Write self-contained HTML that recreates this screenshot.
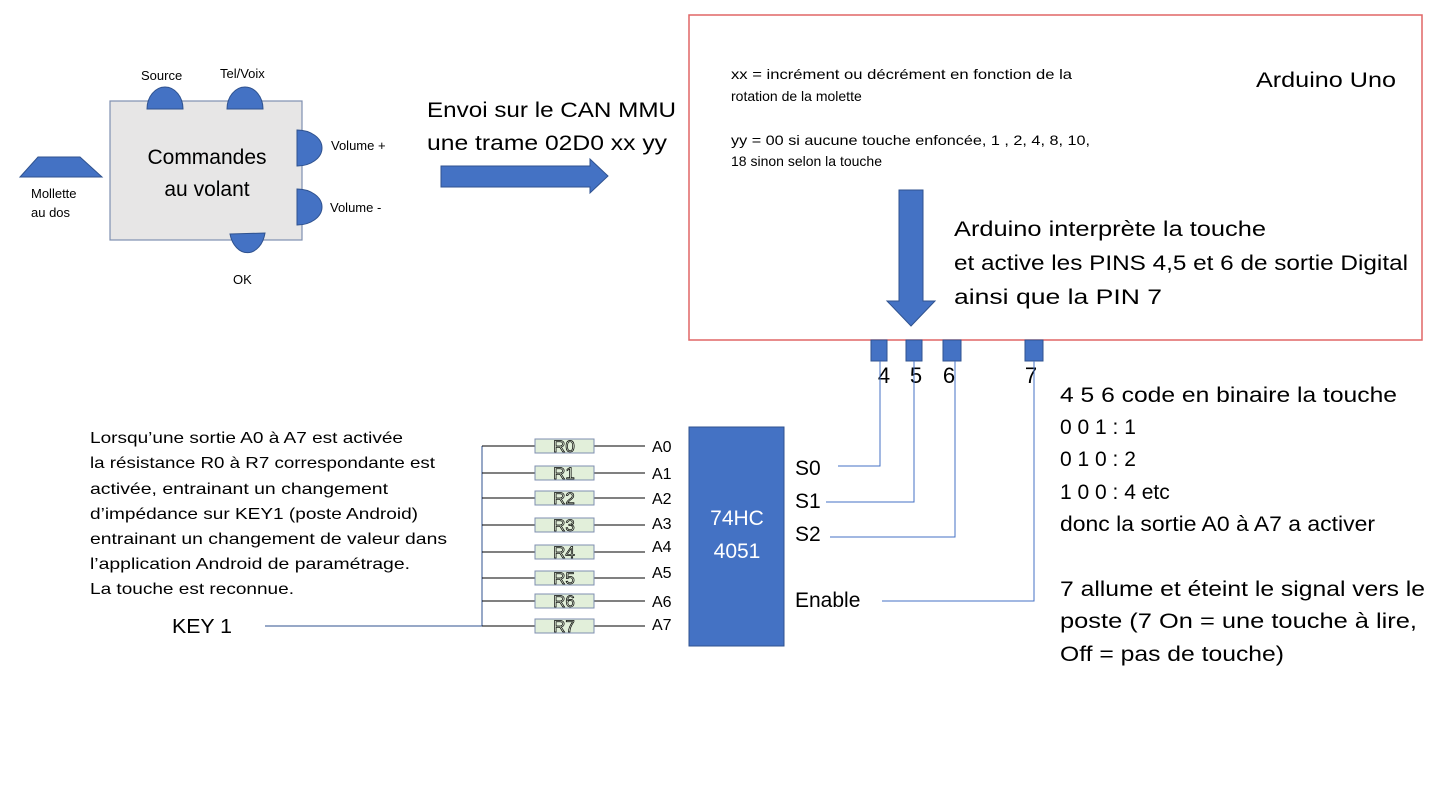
<!DOCTYPE html>
<html><head><meta charset="utf-8"><style>
html,body{margin:0;padding:0;background:#fff;}
svg{display:block;font-family:"Liberation Sans",sans-serif;}
</style></head><body>
<svg width="1440" height="810" viewBox="0 0 1440 810" xmlns="http://www.w3.org/2000/svg">
<!-- Commandes au volant -->
<rect x="110" y="101" width="192" height="139" fill="#e7e6e6" stroke="#7f8fb0" stroke-width="1.2"/>
<g fill="#4472c4" stroke="#2f528f" stroke-width="1">
<path d="M147 109 A18 22 0 0 1 183 109 Z"/>
<path d="M227 109 A18 22 0 0 1 263 109 Z"/>
<path d="M297 130 A25 18 0 0 1 297 166 Z"/>
<path d="M297 189 A25 18 0 0 1 297 225 Z"/>
<path d="M230 234 L265 233 A18 25 0 0 1 230 234 Z"/>
<path d="M38 157 L80 157 L102 177 L20 177 Z"/>
</g>
<text x="207" y="164" font-size="21" text-anchor="middle" fill="#000">Commandes</text>
<text x="207" y="196" font-size="21" text-anchor="middle" fill="#000">au volant</text>
<g font-size="13" fill="#000">
<text x="141" y="80">Source</text>
<text x="220" y="78">Tel/Voix</text>
<text x="331" y="150">Volume +</text>
<text x="330" y="212">Volume -</text>
<text x="233" y="284">OK</text>
<text x="31" y="198">Mollette</text>
<text x="31" y="217">au dos</text>
</g>
<!-- Envoi -->
<text x="427" y="117" font-size="21" textLength="249" lengthAdjust="spacingAndGlyphs">Envoi sur le CAN MMU</text>
<text x="427" y="150" font-size="21" textLength="240" lengthAdjust="spacingAndGlyphs">une trame 02D0 xx yy</text>
<path d="M441 166 L590 166 L590 159 L608 176 L590 193 L590 187 L441 187 Z" fill="#4472c4" stroke="#2f528f" stroke-width="1"/>
<!-- Arduino box -->
<rect x="689" y="15" width="733" height="325" fill="#fff" stroke="#e06666" stroke-width="1.5"/>
<g font-size="14" fill="#000">
<text x="731" y="79" textLength="341" lengthAdjust="spacingAndGlyphs">xx = incrément ou décrément en fonction de la</text>
<text x="731" y="101">rotation de la molette</text>
<text x="731" y="145" textLength="359" lengthAdjust="spacingAndGlyphs">yy = 00 si aucune touche enfoncée, 1 , 2, 4, 8, 10,</text>
<text x="731" y="166">18 sinon selon la touche</text>
</g>
<text x="1256" y="87" font-size="21" textLength="140" lengthAdjust="spacingAndGlyphs">Arduino Uno</text>
<text x="954" y="236" font-size="21" textLength="312" lengthAdjust="spacingAndGlyphs">Arduino interprète la touche</text>
<text x="954" y="270" font-size="21" textLength="454" lengthAdjust="spacingAndGlyphs">et active les PINS 4,5 et 6 de sortie Digital</text>
<text x="954" y="304" font-size="21" textLength="208" lengthAdjust="spacingAndGlyphs">ainsi que la PIN 7</text>
<path d="M899 190 L923 190 L923 301 L935 301 L911 326 L887 301 L899 301 Z" fill="#4472c4" stroke="#2f528f" stroke-width="1"/>
<!-- pins -->
<g fill="#4472c4" stroke="#2f528f" stroke-width="1">
<rect x="871" y="340" width="16" height="21"/>
<rect x="906" y="340" width="16" height="21"/>
<rect x="943" y="340" width="18" height="21"/>
<rect x="1025" y="340" width="18" height="21"/>
</g>
<g font-size="22" fill="#000" text-anchor="middle">
<text x="884" y="383">4</text>
<text x="916" y="383">5</text>
<text x="949" y="383">6</text>
<text x="1031" y="383">7</text>
</g>
<g stroke="#4472c4" stroke-width="1" fill="none">
<path d="M880 361 V466 H838"/>
<path d="M914 361 V502 H826"/>
<path d="M955 361 V537 H830"/>
<path d="M1034 361 V601 H882"/>
</g>
<!-- chip -->
<rect x="689" y="427" width="95" height="219" fill="#4472c4" stroke="#2f528f" stroke-width="1"/>
<text x="737" y="525" font-size="21" fill="#fff" text-anchor="middle">74HC</text>
<text x="737" y="558" font-size="21" fill="#fff" text-anchor="middle">4051</text>
<g font-size="21" fill="#000">
<text x="795" y="475">S0</text>
<text x="795" y="508">S1</text>
<text x="795" y="541">S2</text>
<text x="795" y="607">Enable</text>
</g>
<!-- resistors -->
<g stroke="#000" stroke-width="1">
<line x1="482" y1="446" x2="482" y2="626" stroke="#2f528f"/>
<line x1="265" y1="626" x2="482" y2="626" stroke="#2f528f"/>
</g>
<g font-size="17" fill="#000">
<g transform="translate(0,446)"><line x1="482" y1="0" x2="535" y2="0" stroke="#000"/><line x1="594" y1="0" x2="645" y2="0" stroke="#000"/><rect x="535" y="-7" width="59" height="14" fill="#e2efda" stroke="#7f8fb0"/><text x="564" y="6" text-anchor="middle" fill="#e2efda" stroke="#000" stroke-width="0.7">R0</text><text x="652" y="6" font-size="16">A0</text></g>
<g transform="translate(0,473)"><line x1="482" y1="0" x2="535" y2="0" stroke="#000"/><line x1="594" y1="0" x2="645" y2="0" stroke="#000"/><rect x="535" y="-7" width="59" height="14" fill="#e2efda" stroke="#7f8fb0"/><text x="564" y="6" text-anchor="middle" fill="#e2efda" stroke="#000" stroke-width="0.7">R1</text><text x="652" y="6" font-size="16">A1</text></g>
<g transform="translate(0,498)"><line x1="482" y1="0" x2="535" y2="0" stroke="#000"/><line x1="594" y1="0" x2="645" y2="0" stroke="#000"/><rect x="535" y="-7" width="59" height="14" fill="#e2efda" stroke="#7f8fb0"/><text x="564" y="6" text-anchor="middle" fill="#e2efda" stroke="#000" stroke-width="0.7">R2</text><text x="652" y="6" font-size="16">A2</text></g>
<g transform="translate(0,525)"><line x1="482" y1="0" x2="535" y2="0" stroke="#000"/><line x1="594" y1="0" x2="645" y2="0" stroke="#000"/><rect x="535" y="-7" width="59" height="14" fill="#e2efda" stroke="#7f8fb0"/><text x="564" y="6" text-anchor="middle" fill="#e2efda" stroke="#000" stroke-width="0.7">R3</text><text x="652" y="4" font-size="16">A3</text></g>
<g transform="translate(0,552)"><line x1="482" y1="0" x2="535" y2="0" stroke="#000"/><line x1="594" y1="0" x2="645" y2="0" stroke="#000"/><rect x="535" y="-7" width="59" height="14" fill="#e2efda" stroke="#7f8fb0"/><text x="564" y="6" text-anchor="middle" fill="#e2efda" stroke="#000" stroke-width="0.7">R4</text><text x="652" y="0" font-size="16">A4</text></g>
<g transform="translate(0,578)"><line x1="482" y1="0" x2="535" y2="0" stroke="#000"/><line x1="594" y1="0" x2="645" y2="0" stroke="#000"/><rect x="535" y="-7" width="59" height="14" fill="#e2efda" stroke="#7f8fb0"/><text x="564" y="6" text-anchor="middle" fill="#e2efda" stroke="#000" stroke-width="0.7">R5</text><text x="652" y="0" font-size="16">A5</text></g>
<g transform="translate(0,601)"><line x1="482" y1="0" x2="535" y2="0" stroke="#000"/><line x1="594" y1="0" x2="645" y2="0" stroke="#000"/><rect x="535" y="-7" width="59" height="14" fill="#e2efda" stroke="#7f8fb0"/><text x="564" y="6" text-anchor="middle" fill="#e2efda" stroke="#000" stroke-width="0.7">R6</text><text x="652" y="6" font-size="16">A6</text></g>
<g transform="translate(0,626)"><line x1="482" y1="0" x2="535" y2="0" stroke="#000"/><line x1="594" y1="0" x2="645" y2="0" stroke="#000"/><rect x="535" y="-7" width="59" height="14" fill="#e2efda" stroke="#7f8fb0"/><text x="564" y="6" text-anchor="middle" fill="#e2efda" stroke="#000" stroke-width="0.7">R7</text><text x="652" y="4" font-size="16">A7</text></g>
</g>
<!-- left paragraph -->
<g font-size="16" fill="#000">
<text x="90" y="443" textLength="313" lengthAdjust="spacingAndGlyphs">Lorsqu’une sortie A0 à A7 est activée</text>
<text x="90" y="468" textLength="345" lengthAdjust="spacingAndGlyphs">la résistance R0 à R7 correspondante est</text>
<text x="90" y="494" textLength="298" lengthAdjust="spacingAndGlyphs">activée, entrainant un changement</text>
<text x="90" y="519" textLength="328" lengthAdjust="spacingAndGlyphs">d’impédance sur KEY1 (poste Android)</text>
<text x="90" y="544" textLength="357" lengthAdjust="spacingAndGlyphs">entrainant un changement de valeur dans</text>
<text x="90" y="569" textLength="320" lengthAdjust="spacingAndGlyphs">l’application Android de paramétrage.</text>
<text x="90" y="594" textLength="204" lengthAdjust="spacingAndGlyphs">La touche est reconnue.</text>
</g>
<text x="172" y="633" font-size="20" textLength="60" lengthAdjust="spacingAndGlyphs">KEY 1</text>
<!-- right text -->
<g font-size="21" fill="#000">
<text x="1060" y="402" textLength="337" lengthAdjust="spacingAndGlyphs">4 5 6 code en binaire la touche</text>
<text x="1060" y="434">0 0 1 : 1</text>
<text x="1060" y="466">0 1 0 : 2</text>
<text x="1060" y="499">1 0 0 : 4 etc</text>
<text x="1060" y="531" textLength="315" lengthAdjust="spacingAndGlyphs">donc la sortie A0 à A7 a activer</text>
<text x="1060" y="596" textLength="365" lengthAdjust="spacingAndGlyphs">7 allume et éteint le signal vers le</text>
<text x="1060" y="628" textLength="357" lengthAdjust="spacingAndGlyphs">poste (7 On = une touche à lire,</text>
<text x="1060" y="661" textLength="224" lengthAdjust="spacingAndGlyphs">Off = pas de touche)</text>
</g>
</svg>
</body></html>
